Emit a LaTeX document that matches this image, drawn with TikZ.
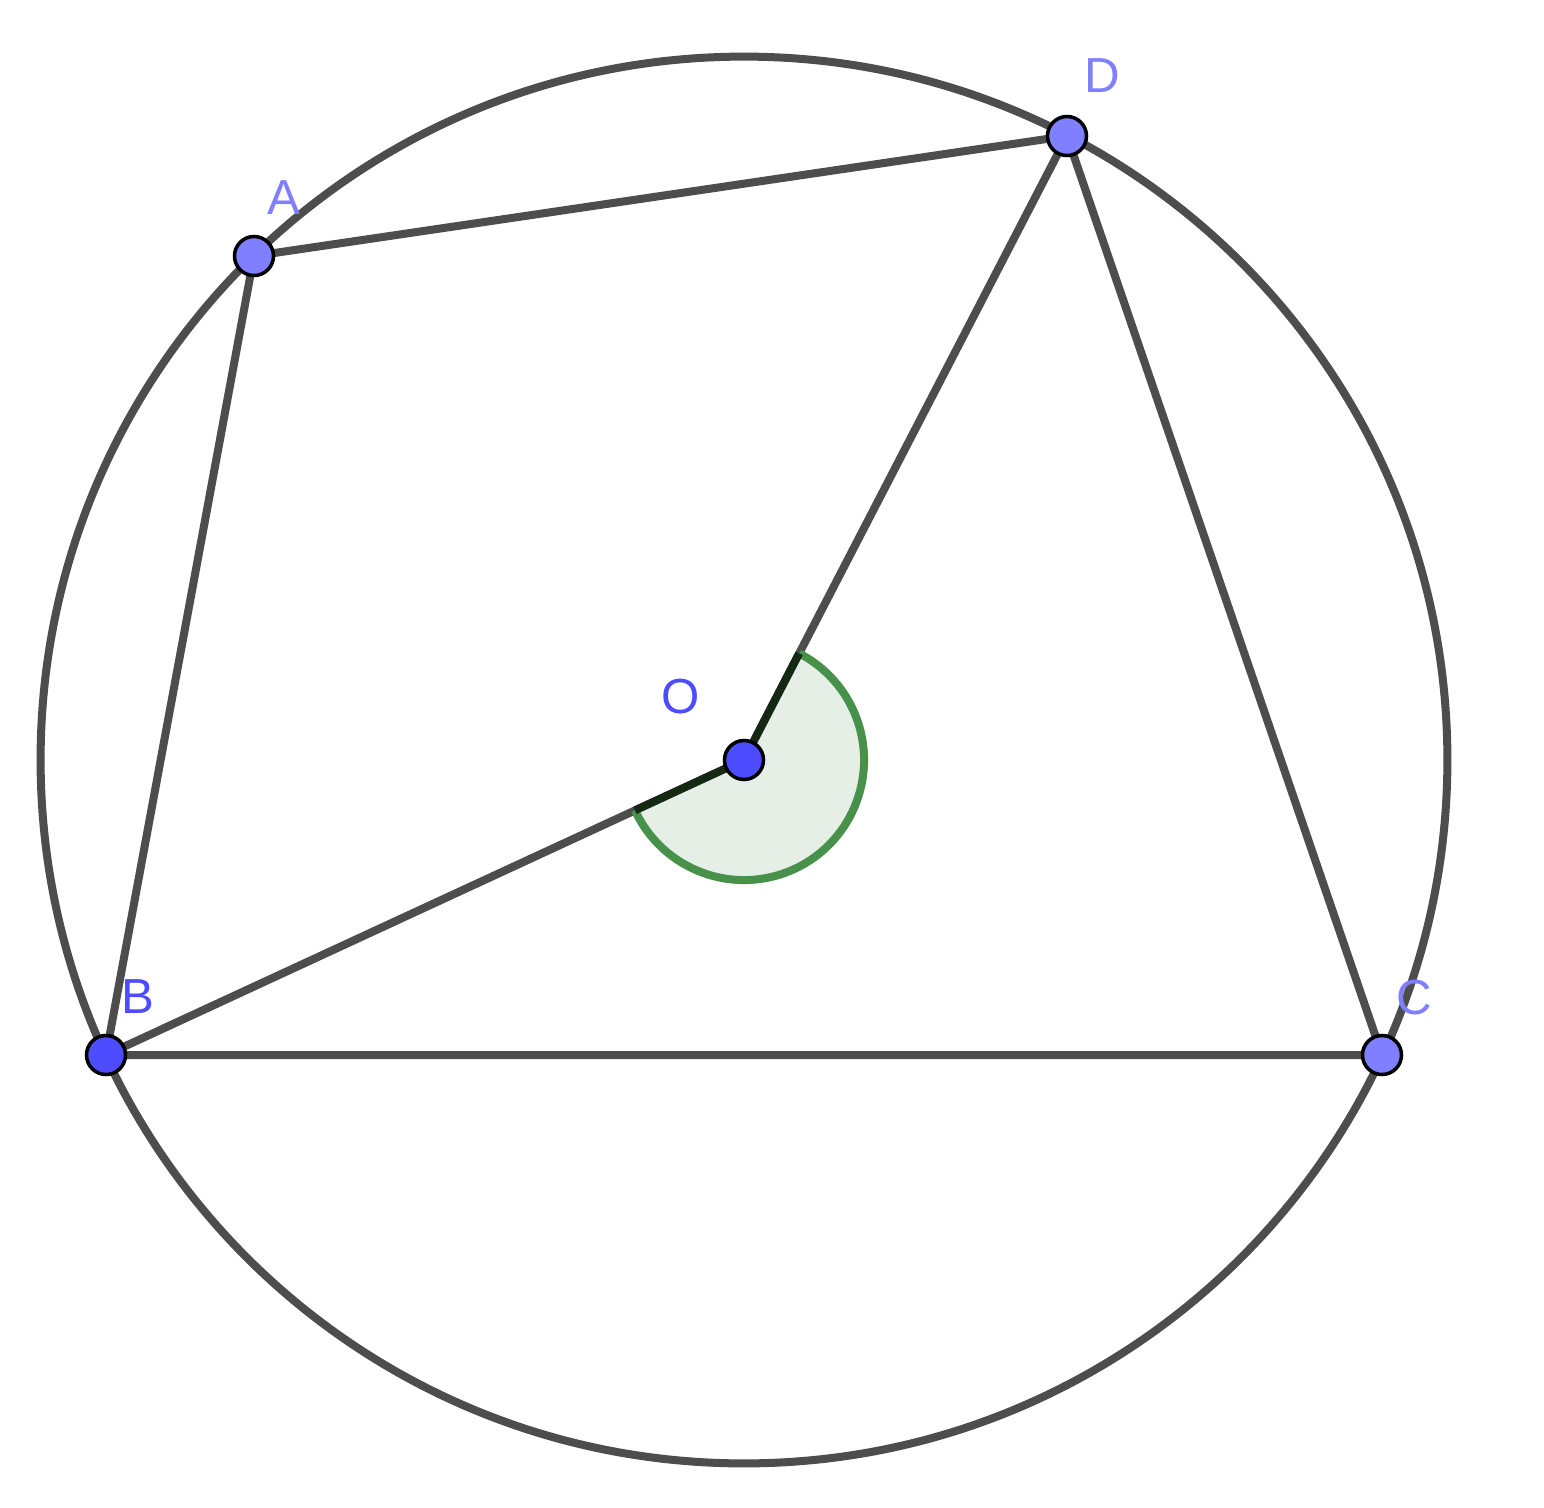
\documentclass[tikz,border=0pt]{standalone}
\usepackage{fontspec}
\setmainfont{Liberation Sans}
\usetikzlibrary{calc}
\definecolor{seggray}{HTML}{4D4D4D}
\definecolor{ptlight}{HTML}{7F7FFF}
\definecolor{ptdark}{HTML}{4D4DFF}
\definecolor{anggreen}{HTML}{47914A}
\definecolor{angfill}{HTML}{E5EFE5}
\definecolor{segdark}{HTML}{142814}
\tikzset{
  seg/.style={seggray,line width=0.08cm},
  lightpt/.style={circle,fill=ptlight,draw=black,line width=0.035cm,inner sep=0pt,minimum size=0.39cm},
  darkpt/.style={circle,fill=ptdark,draw=black,line width=0.035cm,inner sep=0pt,minimum size=0.39cm},
  lab/.style={font=\fontsize{14}{16}\selectfont,inner sep=0pt}
}
\begin{document}
\begin{tikzpicture}[x=0.01cm,y=-0.01cm]
\useasboundingbox (0,0) rectangle (1544,1508);

\coordinate (O) at (744,760);
\coordinate (A) at (254,256);
\coordinate (D) at (1067,136);
\coordinate (B) at (106,1055);
\coordinate (C) at (1382,1055);

% circle through the four points
\draw[seg] (O) circle (7.03cm);

% sides and radii
\draw[seg] (A) -- (D) -- (C) -- (B) -- cycle;
\draw[seg] (O) -- (D);
\draw[seg] (O) -- (B);

% angle BOD
\fill[angfill] (O) -- ++(-155.2:1.2cm) arc[start angle=-155.2,end angle=62.6,radius=1.2cm] -- cycle;
\draw[anggreen,line width=0.08cm] (O) ++(-155.2:1.2cm) arc[start angle=-155.2,end angle=62.6,radius=1.2cm];
\draw[segdark,line width=0.08cm] (O) -- ($(O)!1.2cm!(D)$);
\draw[segdark,line width=0.08cm] (O) -- ($(O)!1.2cm!(B)$);

% points
\node[lightpt] (a) at (A) {};
\node[lightpt] (d) at (D) {};
\node[lightpt] (c) at (C) {};
\node[darkpt] (b) at (B) {};
\node[darkpt] (o) at (O) {};

\node[lab,text=ptlight] (la) at (284,198) {A};
\node[lab,text=ptlight] (ld) at (1102,76) {D};
\node[lab,text=ptlight] (lc) at (1414,998) {C};
\node[lab,text=ptdark] (lb) at (138,997) {B};
\node[lab,text=ptdark] (lo) at (681,697) {O};

\end{tikzpicture}
\end{document}
